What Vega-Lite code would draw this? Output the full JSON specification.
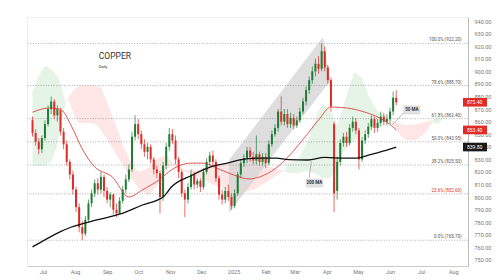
{
  "$schema": "https://vega.github.io/schema/vega-lite/v6.json",
  "width": 441,
  "height": 249,
  "autosize": {"type": "none"},
  "padding": {"left": 27, "top": 17, "right": 32, "bottom": 14},
  "background": "white",
  "config": {
    "view": {"stroke": "#eeeeee"},
    "font": "Roboto",
    "axis": {"labelOverlap": false, "labelFlush": false, "ticks": false, "grid": false, "title": null, "labelFontSize": 5.5, "labelColor": "#777777"},
    "axisY": {"labelOverlap": false, "labelPadding": 6, "domainColor": "#bbbbbb"},
    "axisX": {"labelOverlap": false, "labelPadding": 3, "domainColor": "#cccccc"}
  },
  "resolve": {"axis": {"x": "independent", "y": "independent"}},
  "datasets": {
    "candles": [
      {"d":"2024-06-21","o":861,"h":864,"l":848,"c":851},
      {"d":"2024-06-24","o":851,"h":854,"l":841,"c":844},
      {"d":"2024-06-27","o":844,"h":847,"l":834,"c":838},
      {"d":"2024-06-30","o":838,"h":849,"l":835,"c":847},
      {"d":"2024-07-03","o":847,"h":861,"l":845,"c":858},
      {"d":"2024-07-06","o":858,"h":873,"l":856,"c":870},
      {"d":"2024-07-09","o":870,"h":880,"l":866,"c":876},
      {"d":"2024-07-12","o":876,"h":878,"l":862,"c":865},
      {"d":"2024-07-15","o":865,"h":873,"l":860,"c":870},
      {"d":"2024-07-18","o":869,"h":871,"l":849,"c":852},
      {"d":"2024-07-21","o":852,"h":855,"l":838,"c":842},
      {"d":"2024-07-24","o":842,"h":845,"l":825,"c":828},
      {"d":"2024-07-27","o":828,"h":830,"l":814,"c":818},
      {"d":"2024-07-30","o":818,"h":821,"l":802,"c":806},
      {"d":"2024-08-02","o":806,"h":808,"l":788,"c":792},
      {"d":"2024-08-05","o":792,"h":795,"l":772,"c":776},
      {"d":"2024-08-08","o":776,"h":781,"l":765.7,"c":771},
      {"d":"2024-08-11","o":771,"h":785,"l":769,"c":782},
      {"d":"2024-08-14","o":782,"h":798,"l":780,"c":795},
      {"d":"2024-08-17","o":795,"h":806,"l":792,"c":803},
      {"d":"2024-08-20","o":803,"h":814,"l":800,"c":811},
      {"d":"2024-08-23","o":811,"h":815,"l":802,"c":806},
      {"d":"2024-08-26","o":806,"h":820,"l":803,"c":816},
      {"d":"2024-08-29","o":816,"h":818,"l":800,"c":805},
      {"d":"2024-09-01","o":805,"h":808,"l":795,"c":798},
      {"d":"2024-09-04","o":798,"h":804,"l":792,"c":802},
      {"d":"2024-09-07","o":802,"h":803,"l":786,"c":790},
      {"d":"2024-09-10","o":790,"h":795,"l":784,"c":787},
      {"d":"2024-09-13","o":787,"h":800,"l":786,"c":797},
      {"d":"2024-09-16","o":797,"h":809,"l":795,"c":806},
      {"d":"2024-09-19","o":806,"h":818,"l":803,"c":814},
      {"d":"2024-09-22","o":814,"h":826,"l":812,"c":822},
      {"d":"2024-09-25","o":822,"h":852,"l":820,"c":848},
      {"d":"2024-09-28","o":848,"h":865,"l":845,"c":858},
      {"d":"2024-10-01","o":858,"h":862,"l":846,"c":850},
      {"d":"2024-10-04","o":850,"h":853,"l":838,"c":842},
      {"d":"2024-10-07","o":842,"h":846,"l":832,"c":836},
      {"d":"2024-10-10","o":836,"h":843,"l":830,"c":840},
      {"d":"2024-10-13","o":840,"h":842,"l":827,"c":830},
      {"d":"2024-10-16","o":830,"h":832,"l":818,"c":822},
      {"d":"2024-10-19","o":822,"h":825,"l":815,"c":819},
      {"d":"2024-10-22","o":819,"h":821,"l":787,"c":800},
      {"d":"2024-10-25","o":800,"h":828,"l":797,"c":825},
      {"d":"2024-10-28","o":825,"h":843,"l":822,"c":840},
      {"d":"2024-10-31","o":840,"h":855,"l":837,"c":850},
      {"d":"2024-11-03","o":850,"h":854,"l":842,"c":845},
      {"d":"2024-11-06","o":845,"h":849,"l":826,"c":830},
      {"d":"2024-11-09","o":830,"h":832,"l":815,"c":820},
      {"d":"2024-11-12","o":820,"h":822,"l":800,"c":803},
      {"d":"2024-11-15","o":803,"h":806,"l":784,"c":798},
      {"d":"2024-11-18","o":798,"h":811,"l":795,"c":808},
      {"d":"2024-11-21","o":808,"h":822,"l":806,"c":818},
      {"d":"2024-11-24","o":818,"h":820,"l":806,"c":810},
      {"d":"2024-11-27","o":810,"h":815,"l":807,"c":813},
      {"d":"2024-11-30","o":813,"h":815,"l":804,"c":808},
      {"d":"2024-12-03","o":808,"h":823,"l":806,"c":820},
      {"d":"2024-12-06","o":820,"h":831,"l":818,"c":828},
      {"d":"2024-12-09","o":828,"h":836,"l":825,"c":833},
      {"d":"2024-12-12","o":833,"h":837,"l":824,"c":828},
      {"d":"2024-12-15","o":828,"h":830,"l":812,"c":815},
      {"d":"2024-12-18","o":815,"h":817,"l":798,"c":802},
      {"d":"2024-12-21","o":802,"h":806,"l":794,"c":798},
      {"d":"2024-12-24","o":798,"h":808,"l":795,"c":805},
      {"d":"2024-12-27","o":805,"h":810,"l":797,"c":800},
      {"d":"2024-12-30","o":800,"h":803,"l":790,"c":793},
      {"d":"2025-01-02","o":793,"h":806,"l":791,"c":803},
      {"d":"2025-01-05","o":803,"h":820,"l":801,"c":818},
      {"d":"2025-01-08","o":818,"h":830,"l":815,"c":827},
      {"d":"2025-01-11","o":827,"h":834,"l":824,"c":831},
      {"d":"2025-01-14","o":831,"h":840,"l":827,"c":837},
      {"d":"2025-01-17","o":837,"h":840,"l":828,"c":832},
      {"d":"2025-01-20","o":832,"h":836,"l":826,"c":829},
      {"d":"2025-01-23","o":829,"h":849,"l":826,"c":834},
      {"d":"2025-01-26","o":834,"h":836,"l":825,"c":828},
      {"d":"2025-01-29","o":828,"h":835,"l":825,"c":832},
      {"d":"2025-02-01","o":832,"h":835,"l":823,"c":827},
      {"d":"2025-02-04","o":827,"h":845,"l":825,"c":842},
      {"d":"2025-02-07","o":842,"h":853,"l":840,"c":850},
      {"d":"2025-02-10","o":850,"h":858,"l":848,"c":855},
      {"d":"2025-02-13","o":855,"h":870,"l":852,"c":868},
      {"d":"2025-02-16","o":868,"h":880,"l":857,"c":860},
      {"d":"2025-02-19","o":860,"h":870,"l":857,"c":866},
      {"d":"2025-02-22","o":866,"h":870,"l":855,"c":858},
      {"d":"2025-02-25","o":858,"h":867,"l":855,"c":863},
      {"d":"2025-02-28","o":863,"h":866,"l":854,"c":857},
      {"d":"2025-03-03","o":857,"h":864,"l":855,"c":861},
      {"d":"2025-03-06","o":861,"h":871,"l":859,"c":868},
      {"d":"2025-03-09","o":868,"h":879,"l":866,"c":876},
      {"d":"2025-03-12","o":876,"h":888,"l":873,"c":885},
      {"d":"2025-03-15","o":885,"h":896,"l":882,"c":893},
      {"d":"2025-03-18","o":893,"h":904,"l":890,"c":900},
      {"d":"2025-03-21","o":900,"h":910,"l":896,"c":906},
      {"d":"2025-03-24","o":906,"h":912,"l":898,"c":902},
      {"d":"2025-03-27","o":902,"h":922.2,"l":900,"c":916},
      {"d":"2025-03-30","o":916,"h":920,"l":900,"c":903},
      {"d":"2025-04-02","o":903,"h":905,"l":890,"c":893},
      {"d":"2025-04-05","o":893,"h":895,"l":868,"c":872},
      {"d":"2025-04-08","o":858,"h":860,"l":788,"c":803},
      {"d":"2025-04-11","o":805,"h":832,"l":798,"c":828},
      {"d":"2025-04-14","o":828,"h":846,"l":825,"c":843},
      {"d":"2025-04-17","o":843,"h":851,"l":840,"c":848},
      {"d":"2025-04-20","o":848,"h":852,"l":840,"c":843},
      {"d":"2025-04-23","o":843,"h":858,"l":841,"c":855},
      {"d":"2025-04-26","o":855,"h":864,"l":852,"c":860},
      {"d":"2025-04-29","o":860,"h":863,"l":850,"c":853},
      {"d":"2025-05-02","o":853,"h":855,"l":822,"c":830},
      {"d":"2025-05-05","o":830,"h":848,"l":828,"c":845},
      {"d":"2025-05-08","o":845,"h":853,"l":842,"c":850},
      {"d":"2025-05-11","o":850,"h":859,"l":847,"c":856},
      {"d":"2025-05-14","o":856,"h":865,"l":853,"c":862},
      {"d":"2025-05-17","o":862,"h":864,"l":851,"c":855},
      {"d":"2025-05-20","o":855,"h":862,"l":852,"c":859},
      {"d":"2025-05-23","o":859,"h":868,"l":856,"c":864},
      {"d":"2025-05-26","o":864,"h":867,"l":857,"c":860},
      {"d":"2025-05-29","o":860,"h":866,"l":857,"c":862},
      {"d":"2025-06-01","o":862,"h":871,"l":858,"c":868},
      {"d":"2025-06-04","o":868,"h":884,"l":865,"c":879},
      {"d":"2025-06-07","o":879,"h":885,"l":873,"c":875.4}
    ],
    "ma50": [
      {"d":"2024-06-21","v":867.5},{"d":"2024-07-07","v":870.8},{"d":"2024-07-17","v":870},
      {"d":"2024-07-19","v":869.3},{"d":"2024-07-29","v":855.7},{"d":"2024-08-07","v":839.8},
      {"d":"2024-08-20","v":824},{"d":"2024-09-06","v":816},{"d":"2024-09-22","v":800.1},
      {"d":"2024-10-05","v":805.7},{"d":"2024-10-21","v":813.6},{"d":"2024-11-02","v":821.6},
      {"d":"2024-11-21","v":827},{"d":"2024-12-03","v":827},{"d":"2024-12-16","v":823},
      {"d":"2025-01-01","v":817.6},{"d":"2025-01-16","v":814.4},{"d":"2025-01-26","v":816},
      {"d":"2025-02-11","v":823.1},{"d":"2025-02-26","v":835},{"d":"2025-03-11","v":847.8},
      {"d":"2025-03-24","v":861.3},{"d":"2025-04-05","v":871.6},{"d":"2025-04-21","v":870.8},
      {"d":"2025-05-07","v":867.7},{"d":"2025-05-22","v":862.9},{"d":"2025-06-04","v":855.7},
      {"d":"2025-06-07","v":853.4}
    ],
    "ma200": [
      {"d":"2024-06-21","v":760.4},{"d":"2024-07-03","v":766},{"d":"2024-07-18","v":772.5},
      {"d":"2024-07-28","v":776},{"d":"2024-08-22","v":781.8},{"d":"2024-09-14","v":786.6},
      {"d":"2024-10-05","v":793.7},{"d":"2024-10-25","v":800},{"d":"2024-11-02","v":808},
      {"d":"2024-11-21","v":817},{"d":"2024-12-10","v":824},{"d":"2024-12-26","v":827},
      {"d":"2025-01-07","v":829.5},{"d":"2025-01-23","v":831},{"d":"2025-02-11","v":831},
      {"d":"2025-02-23","v":829.8},{"d":"2025-03-14","v":829.5},{"d":"2025-03-30","v":831.5},
      {"d":"2025-04-18","v":831},{"d":"2025-04-30","v":831},{"d":"2025-05-12","v":833.5},
      {"d":"2025-05-26","v":836.7},{"d":"2025-06-07","v":839.8}
    ],
    "cloud": [
      {"s":1,"k":"g","d":"2024-06-21","top":883.6,"bot":825.5},
      {"s":1,"k":"g","d":"2024-06-25","top":893,"bot":824.7},
      {"s":1,"k":"g","d":"2024-06-30","top":901,"bot":824.7},
      {"s":1,"k":"g","d":"2024-07-04","top":904.2,"bot":825.5},
      {"s":1,"k":"g","d":"2024-07-10","top":901,"bot":829.5},
      {"s":1,"k":"g","d":"2024-07-15","top":896.3,"bot":841.4},
      {"s":1,"k":"g","d":"2024-07-18","top":890,"bot":857.3},
      {"s":1,"k":"g","d":"2024-07-23","top":875,"bot":875},
      {"s":2,"k":"p","d":"2024-07-23","top":875,"bot":875},
      {"s":2,"k":"p","d":"2024-07-26","top":879.6,"bot":877.2},
      {"s":2,"k":"p","d":"2024-07-31","top":885.2,"bot":865.3},
      {"s":2,"k":"p","d":"2024-08-05","top":888.3,"bot":858.9},
      {"s":2,"k":"p","d":"2024-08-14","top":889.1,"bot":858.9},
      {"s":2,"k":"p","d":"2024-08-21","top":888.3,"bot":858.1},
      {"s":2,"k":"p","d":"2024-08-26","top":886.7,"bot":853.4},
      {"s":2,"k":"p","d":"2024-08-29","top":881.2,"bot":849.4},
      {"s":2,"k":"p","d":"2024-09-08","top":860.5,"bot":836.7},
      {"s":2,"k":"p","d":"2024-09-17","top":839.8,"bot":824},
      {"s":2,"k":"p","d":"2024-09-24","top":827.9,"bot":815.2},
      {"s":2,"k":"p","d":"2024-10-01","top":820,"bot":807.2},
      {"s":2,"k":"p","d":"2024-10-11","top":823.1,"bot":801.7},
      {"s":2,"k":"p","d":"2024-10-20","top":831.1,"bot":809.6},
      {"s":2,"k":"p","d":"2024-10-28","top":833.5,"bot":821.6},
      {"s":2,"k":"p","d":"2024-11-02","top":828,"bot":825.5},
      {"s":2,"k":"p","d":"2024-11-16","top":821.6,"bot":820},
      {"s":2,"k":"p","d":"2024-11-30","top":822,"bot":815},
      {"s":2,"k":"p","d":"2024-12-12","top":826,"bot":810},
      {"s":2,"k":"p","d":"2024-12-24","top":827,"bot":806},
      {"s":2,"k":"p","d":"2025-01-07","top":827,"bot":803},
      {"s":2,"k":"p","d":"2025-01-21","top":826,"bot":806},
      {"s":2,"k":"p","d":"2025-02-02","top":825,"bot":812},
      {"s":2,"k":"p","d":"2025-02-14","top":822,"bot":819},
      {"s":2,"k":"p","d":"2025-02-19","top":821,"bot":821},
      {"s":3,"k":"g","d":"2025-02-19","top":821,"bot":821},
      {"s":3,"k":"g","d":"2025-02-23","top":827.1,"bot":819},
      {"s":3,"k":"g","d":"2025-03-05","top":831.1,"bot":819.2},
      {"s":3,"k":"g","d":"2025-03-14","top":845.4,"bot":821},
      {"s":3,"k":"g","d":"2025-03-22","top":865.3,"bot":818},
      {"s":3,"k":"g","d":"2025-03-28","top":874.8,"bot":815},
      {"s":3,"k":"g","d":"2025-04-04","top":869.3,"bot":815},
      {"s":3,"k":"g","d":"2025-04-11","top":857.3,"bot":822},
      {"s":3,"k":"g","d":"2025-04-16","top":869.3,"bot":835},
      {"s":3,"k":"g","d":"2025-04-23","top":889.1,"bot":841.4},
      {"s":3,"k":"g","d":"2025-04-28","top":899.5,"bot":845.4},
      {"s":3,"k":"g","d":"2025-05-05","top":894.7,"bot":849.4},
      {"s":3,"k":"g","d":"2025-05-11","top":881.2,"bot":853.4},
      {"s":3,"k":"g","d":"2025-05-19","top":869.3,"bot":857.3},
      {"s":3,"k":"g","d":"2025-05-26","top":865.3,"bot":859.7},
      {"s":3,"k":"g","d":"2025-06-01","top":862,"bot":861},
      {"s":4,"k":"p","d":"2025-06-01","top":862,"bot":861},
      {"s":4,"k":"p","d":"2025-06-07","top":859,"bot":853.4},
      {"s":4,"k":"p","d":"2025-06-16","top":857.3,"bot":845.4},
      {"s":4,"k":"p","d":"2025-06-26","top":858,"bot":845.4},
      {"s":4,"k":"p","d":"2025-07-05","top":859.7,"bot":851},
      {"s":4,"k":"p","d":"2025-07-12","top":861,"bot":860},
      {"s":5,"k":"g","d":"2025-07-12","top":861,"bot":860},
      {"s":5,"k":"g","d":"2025-07-17","top":864.5,"bot":858},
      {"s":5,"k":"g","d":"2025-07-21","top":862,"bot":861}
    ],
    "channel": [
      {"d":"2024-12-28","top":829.5,"bot":788.2},
      {"d":"2025-03-28","top":926.5,"bot":885.2},
      {"d":"2025-04-04","top":892,"bot":892}
    ],
    "fib": [
      {"v":922.2,"t":"100.0% (922.20)"},
      {"v":888.7,"t":"78.6% (888.70)"},
      {"v":862.4,"t":"61.8% (862.40)"},
      {"v":843.95,"t":"50.0% (843.95)"},
      {"v":825.5,"t":"38.2% (825.50)"},
      {"v":802.6,"t":"23.6% (802.60)"},
      {"v":765.7,"t":"0.0% (765.70)"}
    ],
    "tags": [
      {"d":"2025-06-22","v":869.3,"t":"50 MA"},
      {"d":"2025-03-20","v":811.2,"t":"200 MA"}
    ],
    "ptr": [
      {"d":"2025-06-14","v":866.9,"d2":"2025-06-03","v2":857.3},
      {"d":"2025-03-17","v":828.5,"d2":"2025-03-15","v2":815.5}
    ],
    "px": [
      {"v":875.4,"t":"875.40","k":"last"},
      {"v":853.4,"t":"853.40","k":"ma50"},
      {"v":839.8,"t":"839.80","k":"ma200"}
    ],
    "titles": [
      {"t":"COPPER","v":912,"k":"main"},
      {"t":"Daily","v":903.5,"k":"sub"}
    ]
  },
  "layer": [
    {
      "data": {"name": "cloud"},
      "mark": {"type": "area", "interpolate": "linear", "opacity": 1},
      "encoding": {
        "x": {"field": "d", "type": "temporal", "title": null,
          "scale": {"type": "utc", "domain": [{"year":2024,"month":6,"date":20,"hours":12,"utc":true},{"year":2025,"month":8,"date":10,"hours":10,"utc":true}]},
          "axis": {"title": null, "tickCount": {"interval": "month", "step": 1}, "labelExpr": "utcFormat(datum.value, '%m') == '01' ? utcFormat(datum.value, '%Y') : utcFormat(datum.value, '%b')", "labelOverlap": false}},
        "y": {"field": "top", "type": "quantitative", "title": null,
          "scale": {"domain": [745.2, 943.2], "nice": false, "zero": false},
          "axis": {"title": null, "orient": "right", "values": [750,760,770,780,790,800,810,820,830,840,850,860,870,880,890,900,910,920,930,940], "format": ".2f", "labelOverlap": false, "labelBound": false}},
        "y2": {"field": "bot"},
        "detail": {"field": "s", "type": "nominal"},
        "color": {"condition": {"test": "datum.k == 'g'", "value": "#e6f4e8"}, "value": "#fde6e5"}
      }
    },
    {
      "data": {"name": "channel"},
      "mark": {"type": "area", "interpolate": "linear", "fill": "#d4d4d4", "opacity": 0.75, "stroke": "#c2c2c2", "strokeWidth": 0.5},
      "encoding": {
        "x": {"field": "d", "type": "temporal", "axis": null},
        "y": {"field": "top", "type": "quantitative", "axis": null},
        "y2": {"field": "bot"}
      }
    },
    {
      "data": {"name": "fib"},
      "mark": {"type": "rule", "stroke": "#9a9a9a", "strokeWidth": 0.8, "strokeDash": [1, 1.6]},
      "encoding": {
        "y": {"field": "v", "type": "quantitative", "axis": null}
      }
    },
    {
      "data": {"name": "fib"},
      "mark": {"type": "text", "align": "right", "baseline": "bottom", "dy": -1, "fontSize": 4.5},
      "encoding": {
        "x": {"datum": {"year":2025,"month":8,"date":9,"utc":true}, "type": "temporal", "axis": null},
        "y": {"field": "v", "type": "quantitative", "axis": null},
        "text": {"field": "t"},
        "color": {"condition": {"test": "datum.v > 800 && datum.v < 810", "value": "#d93025"}, "value": "#555555"}
      }
    },
    {
      "data": {"name": "candles"},
      "mark": {"type": "rule", "strokeWidth": 0.7},
      "encoding": {
        "x": {"field": "d", "type": "temporal", "axis": null},
        "y": {"field": "l", "type": "quantitative", "axis": null},
        "y2": {"field": "h"},
        "color": {"condition": {"test": "datum.c >= datum.o", "value": "#1e7d34"}, "value": "#e02b27"}
      }
    },
    {
      "data": {"name": "candles"},
      "mark": {"type": "bar", "size": 2},
      "encoding": {
        "x": {"field": "d", "type": "temporal", "axis": null},
        "y": {"field": "o", "type": "quantitative", "axis": null},
        "y2": {"field": "c"},
        "color": {"condition": {"test": "datum.c >= datum.o", "value": "#1e7d34"}, "value": "#e02b27"}
      }
    },
    {
      "data": {"name": "ma50"},
      "mark": {"type": "line", "color": "#d9302c", "strokeWidth": 0.8, "interpolate": "monotone"},
      "encoding": {
        "x": {"field": "d", "type": "temporal", "axis": null},
        "y": {"field": "v", "type": "quantitative", "axis": null}
      }
    },
    {
      "data": {"name": "ma200"},
      "mark": {"type": "line", "color": "#111111", "strokeWidth": 1.3, "interpolate": "monotone"},
      "encoding": {
        "x": {"field": "d", "type": "temporal", "axis": null},
        "y": {"field": "v", "type": "quantitative", "axis": null}
      }
    },
    {
      "data": {"name": "ptr"},
      "mark": {"type": "rule", "stroke": "#9a9a9a", "strokeWidth": 0.7},
      "encoding": {
        "x": {"field": "d", "type": "temporal", "axis": null},
        "y": {"field": "v", "type": "quantitative", "axis": null},
        "x2": {"field": "d2"},
        "y2": {"field": "v2"}
      }
    },
    {
      "data": {"name": "tags"},
      "mark": {"type": "point", "shape": "M-1,-0.5H1V0.5H-1Z", "size": 256, "filled": true, "fill": "#e3e3e3", "stroke": "#c6c6c6", "strokeWidth": 0.5, "opacity": 1},
      "encoding": {
        "x": {"field": "d", "type": "temporal", "axis": null},
        "y": {"field": "v", "type": "quantitative", "axis": null}
      }
    },
    {
      "data": {"name": "tags"},
      "mark": {"type": "text", "fontSize": 4.5, "fontWeight": "bold", "color": "#333333", "align": "center", "baseline": "middle"},
      "encoding": {
        "x": {"field": "d", "type": "temporal", "axis": null},
        "y": {"field": "v", "type": "quantitative", "axis": null},
        "text": {"field": "t"}
      }
    },
    {
      "data": {"name": "px"},
      "mark": {"type": "point", "shape": "M0,-0.36H2V0.36H0Z", "size": 576, "filled": true, "opacity": 1, "strokeWidth": 0},
      "encoding": {
        "x": {"datum": {"year":2025,"month":8,"date":10,"hours":10,"utc":true}, "type": "temporal", "axis": null},
        "y": {"field": "v", "type": "quantitative", "axis": null},
        "color": {"condition": {"test": "datum.k == 'ma200'", "value": "#1a1a1a"}, "value": "#e02b27"}
      }
    },
    {
      "data": {"name": "px"},
      "mark": {"type": "text", "fontSize": 5, "color": "white", "align": "left", "baseline": "middle", "dx": 4},
      "encoding": {
        "x": {"datum": {"year":2025,"month":8,"date":10,"hours":10,"utc":true}, "type": "temporal", "axis": null},
        "y": {"field": "v", "type": "quantitative", "axis": null},
        "text": {"field": "t"}
      }
    },
    {
      "data": {"name": "titles"},
      "mark": {"type": "text", "align": "left", "baseline": "middle", "color": "#333333"},
      "encoding": {
        "x": {"datum": {"year":2024,"month":8,"date":24,"utc":true}, "type": "temporal", "axis": null},
        "y": {"field": "v", "type": "quantitative", "axis": null},
        "text": {"field": "t"},
        "size": {"field": "k", "type": "nominal", "scale": {"domain": ["main", "sub"], "range": [8.5, 4]}, "legend": null}
      }
    }
  ]
}
